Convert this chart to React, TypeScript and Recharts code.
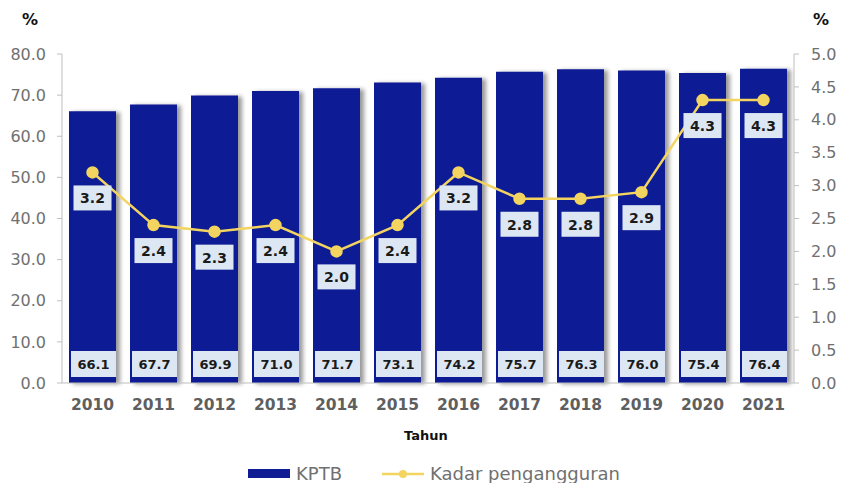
import {
  Bar,
  ComposedChart,
  LabelList,
  Line,
  XAxis,
  YAxis,
} from 'recharts';

const years = ['2010', '2011', '2012', '2013', '2014', '2015', '2016', '2017', '2018', '2019', '2020', '2021'];
const kptb = [66.1, 67.7, 69.9, 71.0, 71.7, 73.1, 74.2, 75.7, 76.3, 76.0, 75.4, 76.4];
const unemployment = [3.2, 2.4, 2.3, 2.4, 2.0, 2.4, 3.2, 2.8, 2.8, 2.9, 4.3, 4.3];
const leftTicks = [0, 10, 20, 30, 40, 50, 60, 70, 80];
const rightTicks = [0, 0.5, 1, 1.5, 2, 2.5, 3, 3.5, 4, 4.5, 5];

const data = years.map((year, i) => ({
  year,
  kptb: kptb[i],
  rate: unemployment[i],
}));

const BAR = '#101c94';
const LINE = '#f3d460';
const BOX = '#dde7f3';
const FONT = '"DejaVu Sans", sans-serif';
const GREY = '#707070';

function BarValue(props: any) {
  const { x, width, value, viewBox } = props;
  const bx = (viewBox?.x ?? x) + 2;
  const bw = (viewBox?.width ?? width) - 2;
  const top = 383 - 32;
  return (
    <g>
      <rect x={bx} y={top} width={bw} height={26} fill={BOX} />
      <text
        x={bx + bw / 2}
        y={top + 13}
        textAnchor="middle"
        dominantBaseline="central"
        fontFamily={FONT}
        fontWeight={700}
        fontSize={13}
        fill="#1a1a1a"
      >
        {Number(value).toFixed(1)}
      </text>
    </g>
  );
}

function RateValue(props: any) {
  const { x, y, value } = props;
  const w = 38;
  return (
    <g>
      <rect x={x - w / 2} y={y + 13} width={w} height={25} fill={BOX} />
      <text
        x={x}
        y={y + 26}
        textAnchor="middle"
        dominantBaseline="central"
        fontFamily={FONT}
        fontWeight={700}
        fontSize={14}
        fill="#1a1a1a"
      >
        {Number(value).toFixed(1)}
      </text>
    </g>
  );
}

export default function App() {
  return (
    <div
      style={{
        position: 'absolute',
        left: 0,
        top: 0,
        width: 845,
        height: 483,
        background: '#fff',
        fontFamily: FONT,
      }}
    >
      <ComposedChart
        width={845}
        height={483}
        data={data}
        margin={{ top: 54, right: 0, bottom: 0, left: 0 }}
      >
        <defs>
          <filter id="barShadow" x="-20%" y="-5%" width="150%" height="110%">
            <feDropShadow dx="4" dy="1" stdDeviation="2" floodColor="#000" floodOpacity="0.4" />
          </filter>
        </defs>
        <XAxis
          dataKey="year"
          height={100}
          axisLine={{ stroke: '#bfbfbf' }}
          tickLine={false}
          tickSize={0}
          tickMargin={16}
          tick={{ fill: '#5f5f5f', fontSize: 15.5, fontWeight: 700, fontFamily: FONT }}
        />
        <YAxis
          yAxisId="left"
          width={62}
          domain={[0, 80]}
          ticks={leftTicks}
          interval={0}
          tickFormatter={(v: number) => v.toFixed(1)}
          axisLine={{ stroke: '#bfbfbf' }}
          tickLine={{ stroke: '#bfbfbf' }}
          tickSize={5}
          tickMargin={11}
          tick={{ fill: GREY, fontSize: 16, fontFamily: FONT }}
        />
        <YAxis
          yAxisId="right"
          orientation="right"
          width={51}
          domain={[0, 5]}
          ticks={rightTicks}
          interval={0}
          tickFormatter={(v: number) => v.toFixed(1)}
          axisLine={{ stroke: '#bfbfbf' }}
          tickLine={{ stroke: '#bfbfbf' }}
          tickSize={5}
          tickMargin={12}
          tick={{ fill: GREY, fontSize: 16, fontFamily: FONT }}
        />
        <Bar
          yAxisId="left"
          dataKey="kptb"
          fill={BAR}
          barSize={47}
          filter="url(#barShadow)"
          isAnimationActive={false}
        >
          <LabelList dataKey="kptb" content={BarValue} />
        </Bar>
        <Line
          yAxisId="right"
          dataKey="rate"
          stroke={LINE}
          strokeWidth={2.5}
          dot={{ r: 5, fill: LINE, stroke: LINE }}
          isAnimationActive={false}
        >
          <LabelList dataKey="rate" content={RateValue} />
        </Line>
      </ComposedChart>

      <div style={{ position: 'absolute', left: 22, top: 10, fontWeight: 700, fontSize: 16, color: '#111' }}>%</div>
      <div style={{ position: 'absolute', left: 813, top: 10, fontWeight: 700, fontSize: 16, color: '#111' }}>%</div>
      <div style={{ position: 'absolute', left: 404, top: 428, fontWeight: 700, fontSize: 13, color: '#111' }}>Tahun</div>

      <div style={{ position: 'absolute', left: 248, top: 463, display: 'flex', alignItems: 'center', color: GREY, fontSize: 18 }}>
        <span style={{ display: 'inline-block', width: 42, height: 9, background: BAR, marginRight: 6 }} />
        <span>KPTB</span>
        <svg width={42} height={12} style={{ marginLeft: 40, marginRight: 6 }}>
          <line x1={0} y1={6} x2={42} y2={6} stroke={LINE} strokeWidth={2.5} />
          <circle cx={21} cy={6} r={4} fill={LINE} />
        </svg>
        <span>Kadar pengangguran</span>
      </div>
    </div>
  );
}
